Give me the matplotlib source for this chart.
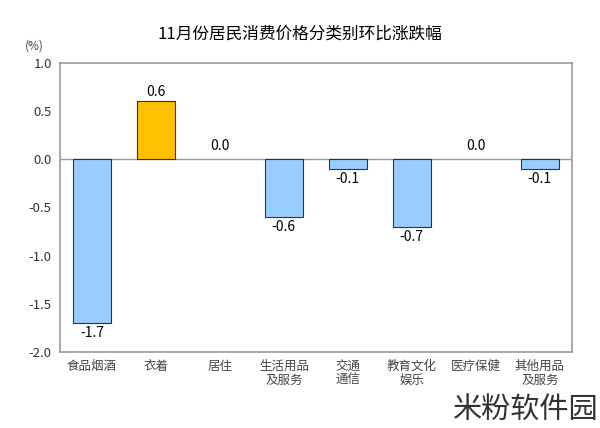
import matplotlib.pyplot as plt
import numpy as np

plt.rcParams['font.family'] = ['Noto Sans CJK SC', 'DejaVu Sans']

categories = ['食品烟酒', '衣着', '居住', '生活用品\n及服务', '交通\n通信',
              '教育文化\n娱乐', '医疗保健', '其他用品\n及服务']
values = [-1.7, 0.6, 0.0, -0.6, -0.1, -0.7, 0.0, -0.1]
yticks = [1.0, 0.5, 0.0, -0.5, -1.0, -1.5, -2.0]

fig = plt.figure(figsize=(6, 4.28), dpi=100)
ax = fig.add_axes([0.1, 0.178, 0.853, 0.675])

x = np.arange(len(categories))
colors = ['#FFC000' if v > 0 else '#99CCFF' for v in values]
edges = ['#333333' if v != 0 else 'none' for v in values]
ax.bar(x, values, width=0.6, color=colors, edgecolor=edges, linewidth=0.8, zorder=3)
ax.axhline(0, color='#999999', linewidth=1, zorder=2)

for xi, v in zip(x, values):
    if v > 0:
        ax.text(xi, v + 0.03, f'{v:.1f}', ha='center', va='bottom', fontsize=10)
    elif v < 0:
        ax.text(xi, v - 0.03, f'{v:.1f}', ha='center', va='top', fontsize=10)
    else:
        ax.text(xi, 0.06, f'{v:.1f}', ha='center', va='bottom', fontsize=10)

ax.set_xlim(-0.5, len(categories) - 0.5)
ax.set_ylim(-2.0, 1.0)
ax.set_yticks(yticks)
ax.set_yticklabels([f'{t:.1f}' for t in yticks], fontsize=9.5, color='#333333')
ax.set_xticks(x)
ax.set_xticklabels(categories, fontsize=9, color='#444444', linespacing=1.1, va='top')
ax.tick_params(axis='both', length=0, pad=6)
for s in ax.spines.values():
    s.set_color('#999999')
    s.set_linewidth(1.2)

fig.text(0.5, 0.92, '11月份居民消费价格分类别环比涨跌幅', ha='center', va='center', fontsize=12)
fig.text(0.058, 0.893, '(%)', ha='center', va='center', fontsize=8.5, color='#444444')
fig.text(0.997, 0.042, '米粉软件园', ha='right', va='center', fontsize=21, color='#333333',
         fontweight='light')

fig.savefig('out.png', dpi=100)
